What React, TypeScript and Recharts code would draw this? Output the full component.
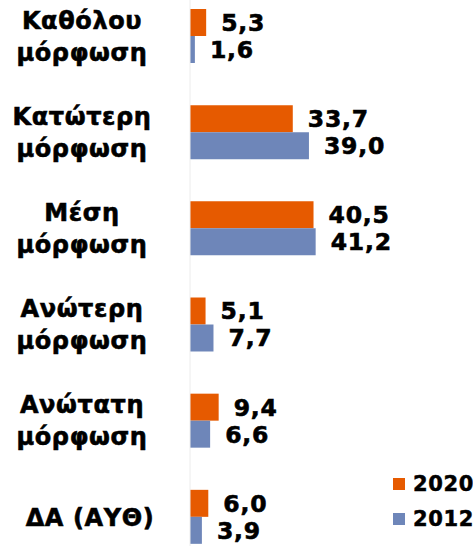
import React from 'react';
import { BarChart, Bar, XAxis, YAxis, LabelList } from 'recharts';

const categories = ['Καθόλου\nμόρφωση', 'Κατώτερη\nμόρφωση', 'Μέση\nμόρφωση', 'Ανώτερη\nμόρφωση', 'Ανώτατη\nμόρφωση', 'ΔΑ (ΑΥΘ)'];
const values2020 = [5.3, 33.7, 40.5, 5.1, 9.4, 6.0];
const values2012 = [1.6, 39.0, 41.2, 7.7, 6.6, 3.9];
const seriesNames = ['2020', '2012'];

const data = categories.map((c, i) => ({ name: c, v2020: values2020[i], v2012: values2012[i] }));

const ORANGE = '#E65A00';
const BLUE = '#6E86B9';
const FONT = '"DejaVu Sans", Verdana, sans-serif';

const CatTick = (props: any) => {
  const { y, payload } = props;
  const lines = String(payload.value).split('\n');
  const lh = 32;
  const start = y - ((lines.length - 1) * lh) / 2;
  return (
    <text x={85} y={start} textAnchor="middle" fontFamily={FONT} fontWeight="bold" fontSize={24} letterSpacing={0.6} fill="#000" stroke="#000" strokeWidth={0.6}>
      {lines.map((l, i) => (
        <tspan key={i} x={lines.length === 1 ? 90 : 82} y={start + i * lh} dy="0.36em">{l}</tspan>
      ))}
    </text>
  );
};

const fmt = (v: any) => Number(v).toFixed(1).replace('.', ',');

const labelStyle = { fontFamily: FONT, fontWeight: 'bold', fontSize: 23.5, fill: '#000', letterSpacing: 0.8, stroke: '#000', strokeWidth: 0.6 } as any;

export default function App() {
  return (
    <div style={{ position: 'absolute', left: 0, top: 0, width: 473, height: 546, overflow: 'hidden', background: '#fff' }}>
      <div style={{ position: 'absolute', left: 0, top: -12 }}>
        <BarChart
          width={473}
          height={577}
          data={data}
          layout="vertical"
          margin={{ top: 0, right: 130.5, bottom: 0, left: 0 }}
          barGap={0}
        >
          <XAxis type="number" domain={[0, 50]} hide />
          <YAxis
            type="category"
            dataKey="name"
            width={190}
            tickLine={false}
            axisLine={{ stroke: '#ececec' }}
            tick={<CatTick />}
            interval={0}
          />
          <Bar dataKey="v2020" name="2020" fill={ORANGE} barSize={27} isAnimationActive={false}>
            <LabelList dataKey="v2020" position="right" offset={15} formatter={fmt} style={labelStyle} />
          </Bar>
          <Bar dataKey="v2012" name="2012" fill={BLUE} barSize={27} isAnimationActive={false}>
            <LabelList dataKey="v2012" position="right" offset={15} formatter={fmt} style={labelStyle} />
          </Bar>
        </BarChart>
      </div>
      <div style={{ position: 'absolute', left: 393, top: 466, fontFamily: FONT, fontWeight: 'bold', fontSize: 21, color: '#000', letterSpacing: 0.6, WebkitTextStroke: '0.5px #000' }}>
        {seriesNames.map((n, i) => (
          <div key={n} style={{ display: 'flex', alignItems: 'center', height: 35 }}>
            <span style={{ display: 'inline-block', width: 12, height: 12, background: i === 0 ? ORANGE : BLUE, marginRight: 8 }} />
            <span>{n}</span>
          </div>
        ))}
      </div>
    </div>
  );
}
